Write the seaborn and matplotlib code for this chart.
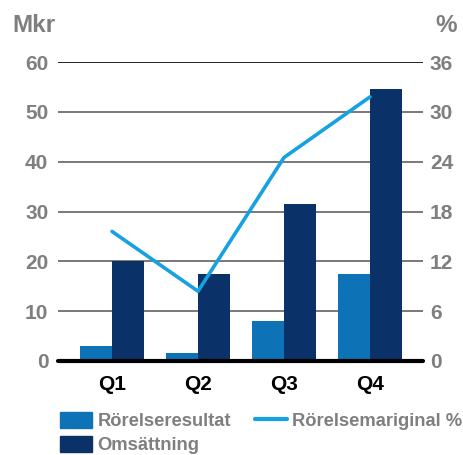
import matplotlib
matplotlib.use("Agg")
import matplotlib.pyplot as plt
import seaborn as sns
import pandas as pd
import numpy as np
from matplotlib.patches import Patch
from matplotlib.lines import Line2D

quarters = ["Q1", "Q2", "Q3", "Q4"]
rorelseresultat = [3.0, 1.6, 8.0, 17.4]
omsattning = [20.0, 17.4, 31.6, 54.6]
marginal = [15.6, 8.4, 24.5, 31.8]
left_ticks = [0, 10, 20, 30, 40, 50, 60]
right_ticks = [0, 6, 12, 18, 24, 30, 36]

c_light = "#0E72B6"
c_dark = "#0A3268"
c_line = "#15A1E2"
c_gray = "#7F7F7F"

sns.set_theme(style="white")
plt.rcParams["font.family"] = ["Liberation Sans", "DejaVu Sans"]
plt.rcParams["font.weight"] = "bold"

df = pd.DataFrame({
    "Kvartal": quarters * 2,
    "Serie": ["Rörelseresultat"] * 4 + ["Omsättning"] * 4,
    "Mkr": rorelseresultat + omsattning,
})

fig = plt.figure(figsize=(4.64, 4.55), dpi=100)
ax = fig.add_axes([58 / 464, 1 - 361 / 455, (423 - 58) / 464, (361 - 62) / 455])

sns.barplot(data=df, x="Kvartal", y="Mkr", hue="Serie", order=quarters,
            hue_order=["Rörelseresultat", "Omsättning"],
            palette=[c_light, c_dark], width=0.744, gap=0, saturation=1,
            linewidth=0, ax=ax, legend=False)
ax.set_xlim(-0.628, 3.616)
ax.set_ylim(0, 60)
ax.set_yticks(left_ticks)
for v in left_ticks[1:]:
    ax.axhline(v, color="black" if v == 60 else "#6E6E6E", lw=1.2 if v == 60 else 1.3, zorder=0)
ax.axhline(0, color="black", lw=3, zorder=5, clip_on=False)
for s in ax.spines.values():
    s.set_visible(False)
ax.set_xlabel("")
ax.set_ylabel("")
ax.tick_params(axis="y", length=0, pad=7, labelsize=15, labelcolor=c_gray)
ax.tick_params(axis="x", length=0, pad=10, labelsize=15, labelcolor="black")

ax2 = ax.twinx()
sns.lineplot(x=np.arange(len(quarters)), y=marginal, color=c_line, lw=2.6, ax=ax2)
ax2.set_ylim(0, 36)
ax2.set_yticks(right_ticks)
ax2.set_xlim(-0.628, 3.616)
for s in ax2.spines.values():
    s.set_visible(False)
ax2.tick_params(axis="y", length=0, pad=5, labelsize=15, labelcolor=c_gray)
ax2.set_ylabel("")
for l in ax.get_yticklabels() + ax2.get_yticklabels() + ax.get_xticklabels():
    l.set_fontweight("bold")

fig.text(12 / 464, 1 - 26 / 455, "Mkr", fontsize=17.5, color=c_gray, fontweight="bold", va="center", ha="left")
fig.text(457 / 464, 1 - 26 / 455, "%", fontsize=17.5, color=c_gray, fontweight="bold", va="center", ha="right")

handles = [Patch(color=c_light, label="Rörelseresultat"),
           Patch(color=c_dark, label="Omsättning"),
           Line2D([0], [0], color=c_line, lw=3, label="Rörelsemariginal %")]
leg = fig.legend(handles=handles, ncol=2, loc="upper left",
                 bbox_to_anchor=(60 / 464, 1 - 412 / 455), frameon=False,
                 borderpad=0, borderaxespad=0, handlelength=1.75, handleheight=1.0,
                 handletextpad=0.3, columnspacing=1.3, labelspacing=0.3,
                 prop={"size": 13.2, "weight": "bold"})
for t in leg.get_texts():
    t.set_color(c_gray)

fig.savefig("out.png", dpi=100)
